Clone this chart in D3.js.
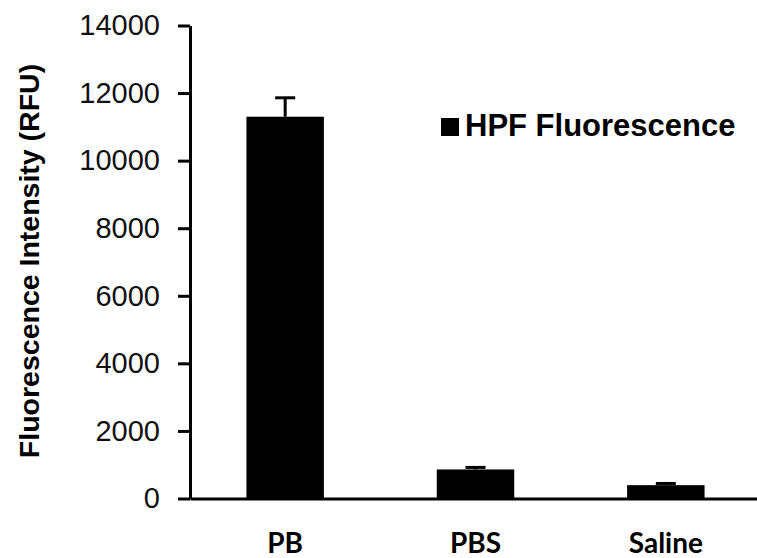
<!DOCTYPE html>
<html>
<head>
<meta charset="utf-8">
<script src="https://cdnjs.cloudflare.com/ajax/libs/d3/7.8.5/d3.min.js"></script>
<style>
  body { margin: 0; background: #fff; }
  svg { display: block; }
</style>
</head>
<body>
<div id="chart"></div>
<script>
// data
const categories = ["PB", "PBS", "Saline"];
const values = [11300, 860, 395];
const errors = [560, 60, 50];
const yTicks = [0, 2000, 4000, 6000, 8000, 10000, 12000, 14000];
const seriesName = "HPF Fluorescence";

const W = 757, H = 558;

const svg = d3.select("#chart")
    .append("svg")
    .attr("width", W)
    .attr("height", H);

const x = d3.scaleBand()
    .domain(categories)
    .range([190, 761])
    .paddingInner(0.593)
    .paddingOuter(0.2965);

const y = d3.scaleLinear()
    .domain([0, 14000])
    .range([498.5, 25.5]);

// bars
svg.append("g")
    .selectAll("rect")
    .data(values)
    .join("rect")
    .attr("x", (d, i) => x(categories[i]))
    .attr("y", d => y(d))
    .attr("width", x.bandwidth())
    .attr("height", d => y(0) - y(d))
    .attr("fill", "#000");

// error bars (upper only)
const eb = svg.append("g")
    .attr("stroke", "#000")
    .attr("stroke-width", 3);
values.forEach((v, i) => {
    const cx = x(categories[i]) + x.bandwidth() / 2;
    eb.append("line")
        .attr("x1", cx).attr("x2", cx)
        .attr("y1", y(v)).attr("y2", y(v + errors[i]));
    eb.append("line")
        .attr("x1", cx - 10).attr("x2", cx + 10)
        .attr("y1", y(v + errors[i])).attr("y2", y(v + errors[i]));
});

// y axis
const yAxis = svg.append("g")
    .attr("transform", "translate(190,0)")
    .call(d3.axisLeft(y).tickValues(yTicks).tickFormat(d3.format("d"))
        .tickSize(12).tickSizeOuter(0).tickPadding(18));
yAxis.selectAll("path, line").style("stroke", "#000").style("stroke-width", "3px");
yAxis.selectAll("text")
    .attr("fill", "#111")
    .style("font-family", "'Liberation Sans', Arial, sans-serif")
    .style("font-size", "29px");

// x axis
const xAxis = svg.append("g")
    .attr("transform", `translate(0,${y(0)})`)
    .call(d3.axisBottom(x).tickSize(0).tickSizeOuter(0));
xAxis.select(".domain").style("stroke", "#000").style("stroke-width", "3px");
xAxis.selectAll("text")
    .attr("dy", null)
    .attr("y", 54)
    .attr("fill", "#000")
    .style("font-family", "Lato, 'Open Sans', sans-serif")
    .style("font-weight", "bold")
    .style("font-size", "28px");

// y title
svg.append("text")
    .attr("transform", "translate(39,261) rotate(-90)")
    .attr("text-anchor", "middle")
    .attr("fill", "#000")
    .style("font-family", "'Liberation Sans', Arial, sans-serif")
    .style("font-weight", "bold")
    .style("font-size", "28.5px")
    .text("Fluorescence Intensity (RFU)");

// legend
svg.append("rect")
    .attr("x", 441).attr("y", 118)
    .attr("width", 18).attr("height", 18)
    .attr("fill", "#000");
svg.append("text")
    .attr("x", 465).attr("y", 136)
    .attr("fill", "#000")
    .style("font-family", "'Liberation Sans', Arial, sans-serif")
    .style("font-weight", "bold")
    .style("font-size", "31px")
    .text(seriesName);
</script>
</body>
</html>
